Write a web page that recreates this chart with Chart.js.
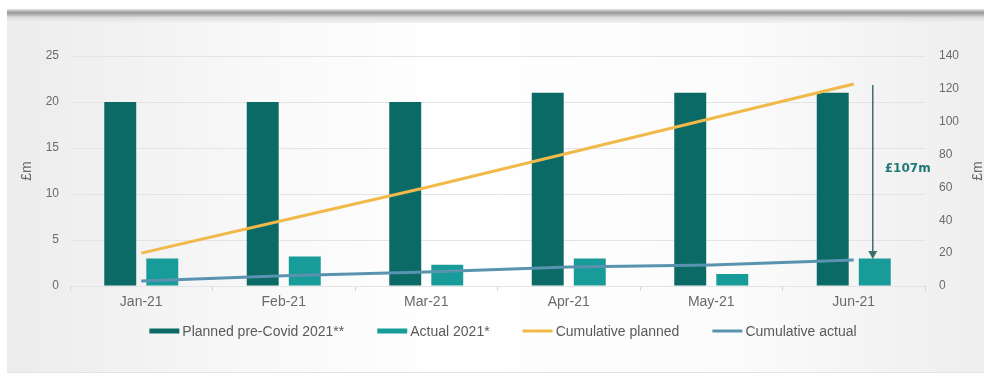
<!DOCTYPE html>
<html>
<head>
<meta charset="utf-8">
<script src="https://cdn.jsdelivr.net/npm/chart.js@4.4.1/dist/chart.umd.min.js"></script>
<style>
  html, body { margin: 0; padding: 0; background: #ffffff; }
  canvas { display: block; }
</style>
</head>
<body>
<canvas id="chart" width="984" height="376"></canvas>
<script>
// Monthly spend, £m
const months = ['Jan-21', 'Feb-21', 'Mar-21', 'Apr-21', 'May-21', 'Jun-21'];
const plannedMonthly = [20, 20, 20, 21, 21, 21];
const actualMonthly = [3.0, 3.2, 2.3, 3.0, 1.3, 3.0];
// Running totals, £m (right axis)
const cumulativePlanned = [20, 40, 60, 81, 102, 123];
const cumulativeActual = [3.0, 6.2, 8.5, 11.5, 12.8, 15.8];
// Axis ticks
const leftTicks = [0, 5, 10, 15, 20, 25];
const rightTicks = [0, 20, 40, 60, 80, 100, 120, 140];
const seriesNames = ['Planned pre-Covid 2021**', 'Actual 2021*', 'Cumulative planned', 'Cumulative actual'];

const COLORS = {
  planned: '#0b6a66',
  actual: '#179c99',
  cumPlanned: '#f1b94a',
  cumActual: '#5a93b0',
  grid: '#e4e4e4',
  tick: '#6a6a6a',
  legendText: '#5a5a5a',
  arrow: '#3b6f70',
  arrowText: '#1f7a78'
};
const FONT = '"Liberation Sans", Arial, sans-serif';

// Slide-style panel behind the chart
const panelBackground = {
  id: 'panelBackground',
  beforeDraw(chart) {
    const ctx = chart.ctx;
    const W = chart.width, H = chart.height;
    ctx.save();
    ctx.fillStyle = '#ffffff';
    ctx.fillRect(0, 0, W, H);
    const g = ctx.createLinearGradient(7, 0, W, 0);
    g.addColorStop(0, '#ececec');
    g.addColorStop(0.25, '#f8f8f8');
    g.addColorStop(0.45, '#ffffff');
    g.addColorStop(0.75, '#fbfbfb');
    g.addColorStop(1, '#eeeeee');
    ctx.fillStyle = g;
    ctx.fillRect(7, 16, W - 7, 357);
    const tb = ctx.createLinearGradient(0, 9, 0, 23);
    tb.addColorStop(0, '#e6e6e6');
    tb.addColorStop(0.25, '#9c9c9c');
    tb.addColorStop(0.45, '#b9b9b9');
    tb.addColorStop(0.6, '#dedede');
    tb.addColorStop(1, '#f2f2f2');
    ctx.fillStyle = tb;
    ctx.fillRect(7, 9, W - 7, 14);
    ctx.fillStyle = '#e2e2e2';
    ctx.fillRect(7, 372, W - 7, 1);
    ctx.restore();
  }
};

// Right-hand axis title, reading bottom-to-top like the left one
const rightAxisTitle = {
  id: 'rightAxisTitle',
  afterDraw(chart) {
    const ctx = chart.ctx;
    const a = chart.chartArea;
    ctx.save();
    ctx.translate(978, (a.top + a.bottom) / 2);
    ctx.rotate(-Math.PI / 2);
    ctx.font = '14px ' + FONT;
    ctx.fillStyle = COLORS.tick;
    ctx.textAlign = 'center';
    ctx.textBaseline = 'middle';
    ctx.fillText('£m', 0, 0);
    ctx.restore();
  }
};

// Gap arrow between cumulative planned and actual in the last month
const gapArrow = {
  id: 'gapArrow',
  afterDatasetsDraw(chart) {
    const last = months.length - 1;
    const y1 = chart.scales.y1;
    const barMeta = chart.getDatasetMeta(1);
    const x = barMeta.data[last].x - 2;
    const top = y1.getPixelForValue(cumulativePlanned[last]);
    const bottom = y1.getPixelForValue(cumulativeActual[last]);
    const gap = cumulativePlanned[last] - cumulativeActual[last];
    const ctx = chart.ctx;
    ctx.save();
    ctx.strokeStyle = COLORS.arrow;
    ctx.fillStyle = COLORS.arrow;
    ctx.lineWidth = 1.5;
    ctx.beginPath();
    ctx.moveTo(x, top + 1);
    ctx.lineTo(x, bottom - 7);
    ctx.stroke();
    ctx.beginPath();
    ctx.moveTo(x - 4.5, bottom - 9);
    ctx.lineTo(x + 4.5, bottom - 9);
    ctx.lineTo(x, bottom - 1);
    ctx.closePath();
    ctx.fill();
    ctx.font = 'bold 12px "DejaVu Sans", Verdana, sans-serif';
    ctx.fillStyle = COLORS.arrowText;
    ctx.textAlign = 'left';
    ctx.textBaseline = 'middle';
    ctx.fillText('£' + Math.round(gap) + 'm', x + 12, (top + bottom) / 2 - 3);
    ctx.restore();
  }
};

// Legend row under the axis
const bottomLegend = {
  id: 'bottomLegend',
  afterDraw(chart) {
    const ctx = chart.ctx;
    const items = chart.data.datasets;
    ctx.save();
    ctx.font = '14px ' + FONT;
    const sw = 30, gapTxt = 3, spacing = 33;
    const widths = items.map(d => sw + gapTxt + ctx.measureText(d.label).width);
    const total = widths.reduce((s, w) => s + w, 0) + spacing * (items.length - 1);
    let x = 503 - total / 2;
    const y = 331;
    items.forEach((d, i) => {
      const isLine = d.type === 'line';
      const h = isLine ? 3 : 5;
      ctx.fillStyle = isLine ? d.borderColor : d.backgroundColor;
      ctx.fillRect(x, y - h / 2, sw, h);
      ctx.fillStyle = COLORS.legendText;
      ctx.textAlign = 'left';
      ctx.textBaseline = 'middle';
      ctx.fillText(d.label, x + sw + gapTxt, y + 1);
      x += widths[i] + spacing;
    });
    ctx.restore();
  }
};

new Chart(document.getElementById('chart'), {
  type: 'bar',
  data: {
    labels: months,
    datasets: [
      {
        label: seriesNames[0],
        data: plannedMonthly,
        backgroundColor: COLORS.planned,
        yAxisID: 'y',
        order: 2,
        categoryPercentage: 0.59,
        barPercentage: 0.76
      },
      {
        label: seriesNames[1],
        data: actualMonthly,
        backgroundColor: COLORS.actual,
        yAxisID: 'y',
        order: 2,
        categoryPercentage: 0.59,
        barPercentage: 0.76
      },
      {
        type: 'line',
        label: seriesNames[2],
        data: cumulativePlanned,
        borderColor: COLORS.cumPlanned,
        backgroundColor: COLORS.cumPlanned,
        borderWidth: 3,
        pointRadius: 0,
        tension: 0,
        yAxisID: 'y1',
        order: 1
      },
      {
        type: 'line',
        label: seriesNames[3],
        data: cumulativeActual,
        borderColor: COLORS.cumActual,
        backgroundColor: COLORS.cumActual,
        borderWidth: 3,
        pointRadius: 0,
        tension: 0,
        yAxisID: 'y1',
        order: 0
      }
    ]
  },
  options: {
    responsive: false,
    animation: false,
    devicePixelRatio: 1,
    layout: { padding: { top: 56, left: 15, right: 0, bottom: 0 } },
    plugins: {
      legend: { display: false },
      tooltip: { enabled: false }
    },
    scales: {
      x: {
        offset: true,
        grid: { display: true, offset: true, drawOnChartArea: false, drawTicks: true, tickLength: 5, color: '#d6d6d6' },
        border: { display: false },
        ticks: { color: COLORS.tick, font: { family: FONT, size: 14 }, padding: 3 },
        afterFit(s) { s.height = 90; }
      },
      y: {
        position: 'left',
        min: leftTicks[0],
        max: leftTicks[leftTicks.length - 1],
        afterBuildTicks(s) { s.ticks = leftTicks.map(v => ({ value: v })); },
        grid: { color: COLORS.grid, drawTicks: false, lineWidth: 1 },
        border: { display: false },
        ticks: { color: COLORS.tick, font: { family: FONT, size: 12 }, padding: 11 },
        title: { display: true, text: '£m', color: COLORS.tick, font: { family: FONT, size: 14 }, padding: { top: 4, bottom: 0 } },
        afterFit(s) { s.width = 70 - 15; }
      },
      y1: {
        position: 'right',
        min: rightTicks[0],
        max: rightTicks[rightTicks.length - 1],
        afterBuildTicks(s) { s.ticks = rightTicks.map(v => ({ value: v })); },
        grid: { drawOnChartArea: false, drawTicks: false },
        border: { display: false },
        ticks: { color: COLORS.tick, font: { family: FONT, size: 12 }, padding: 14 },
        afterFit(s) { s.width = 984 - 925; }
      }
    }
  },
  plugins: [panelBackground, gapArrow, rightAxisTitle, bottomLegend]
});
</script>
</body>
</html>
